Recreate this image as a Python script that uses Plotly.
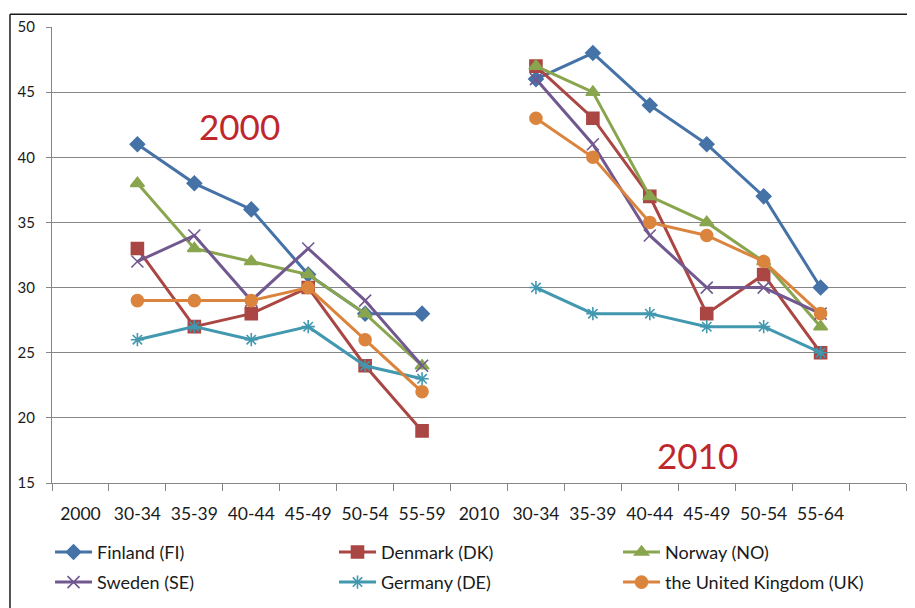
import plotly.graph_objects as go

ages_2000 = ["30-34", "35-39", "40-44", "45-49", "50-54", "55-59"]
ages_2010 = ["30-34", "35-39", "40-44", "45-49", "50-54", "55-64"]
labels = ["2000"] + ages_2000 + ["2010"] + ages_2010 + [""]

series_names = ["Finland (FI)", "Denmark (DK)", "Norway (NO)",
                "Sweden (SE)", "Germany (DE)", "the United Kingdom (UK)"]

finland_2000 = [41, 38, 36, 31, 28, 28]
finland_2010 = [46, 48, 44, 41, 37, 30]
denmark_2000 = [33, 27, 28, 30, 24, 19]
denmark_2010 = [47, 43, 37, 28, 31, 25]
norway_2000 = [38, 33, 32, 31, 28, 24]
norway_2010 = [47, 45, 37, 35, 32, 27]
sweden_2000 = [32, 34, 29, 33, 29, 24]
sweden_2010 = [46, 41, 34, 30, 30, 28]
germany_2000 = [26, 27, 26, 27, 24, 23]
germany_2010 = [30, 28, 28, 27, 27, 25]
uk_2000 = [29, 29, 29, 30, 26, 22]
uk_2010 = [43, 40, 35, 34, 32, 28]

data_2000 = [finland_2000, denmark_2000, norway_2000, sweden_2000, germany_2000, uk_2000]
data_2010 = [finland_2010, denmark_2010, norway_2010, sweden_2010, germany_2010, uk_2010]

colors = ["#4572A7", "#AA4643", "#89A54E", "#71588F", "#4198AF", "#DB843D"]
symbols = ["diamond", "square", "triangle-up", "x-thin-open", "asterisk-open", "circle"]
sizes = [11, 12, 12, 12, 11, 12]

FONT = "Lato"
xs = list(range(len(labels)))

fig = go.Figure()
legend_ids = ["legend", "legend2", "legend3", "legend4", "legend5", "legend6"]
for i, name in enumerate(series_names):
    ys = [None] + data_2000[i] + [None] + data_2010[i] + [None]
    fig.add_trace(go.Scatter(
        x=xs, y=ys, name=name, mode="lines+markers",
        line=dict(color=colors[i], width=3),
        marker=dict(symbol=symbols[i], size=sizes[i], color=colors[i],
                    line=dict(color=colors[i], width=1.6)),
        connectgaps=False,
        legend=legend_ids[i],
    ))

legend_common = dict(
    orientation="h", xanchor="left", yanchor="middle",
    font=dict(family=FONT, size=18, color="#1a1a1a"),
    bgcolor="rgba(0,0,0,0)", itemwidth=37,
)
col_x = [-0.0023, 0.3302, 0.6628]
row_y = [-0.152, -0.218]
legend_layout = {}
for i, lid in enumerate(legend_ids):
    legend_layout[lid] = dict(x=col_x[i % 3], y=row_y[i // 3], **legend_common)

fig.update_layout(
    width=907, height=600,
    margin=dict(l=44, r=9, t=19, b=125, autoexpand=False),
    paper_bgcolor="white", plot_bgcolor="white",
    font=dict(family=FONT, color="#1a1a1a"),
    showlegend=True,
    **legend_layout,
    xaxis=dict(
        range=[-0.5, len(labels) - 0.5],
        tickmode="array", tickvals=xs, ticktext=labels,
        ticks="", showgrid=False, zeroline=False,
        showline=True, linecolor="#868686", linewidth=1,
        tickfont=dict(family=FONT, size=17.5, color="#1a1a1a"),
        ticklabelstandoff=15,
        minor=dict(tickmode="array", tickvals=[v - 0.5 for v in xs] + [len(labels) - 0.5],
                   ticks="outside", ticklen=7, tickcolor="#868686", tickwidth=1,
                   showgrid=False),
    ),
    yaxis=dict(
        range=[15, 50], dtick=5, tick0=15,
        showgrid=True, gridcolor="#868686", gridwidth=1,
        zeroline=False, showline=True, linecolor="#868686", linewidth=1,
        ticks="outside", ticklen=5, tickcolor="#868686",
        tickfont=dict(family=FONT, size=15, color="#1a1a1a"),
        ticklabelstandoff=8,
    ),
    annotations=[
        dict(text="2000", xref="paper", yref="paper", x=0.219, y=0.783,
             showarrow=False, font=dict(family=FONT, size=35, color="#C0272D"),
             xanchor="center", yanchor="middle"),
        dict(text="2010", xref="paper", yref="paper", x=0.756, y=0.0614,
             showarrow=False, font=dict(family=FONT, size=35, color="#C0272D"),
             xanchor="center", yanchor="middle"),
    ],
    shapes=[
        dict(type="line", xref="paper", yref="paper",
             x0=-0.0492, x1=1.2, y0=1.0278, y1=1.0278,
             line=dict(color="#1a1a1a", width=1.5)),
        dict(type="line", xref="paper", yref="paper",
             x0=-0.0492, x1=-0.0492, y0=1.0278, y1=-0.5,
             line=dict(color="#1a1a1a", width=1.5)),
    ],
)

fig.write_html("out.html")
